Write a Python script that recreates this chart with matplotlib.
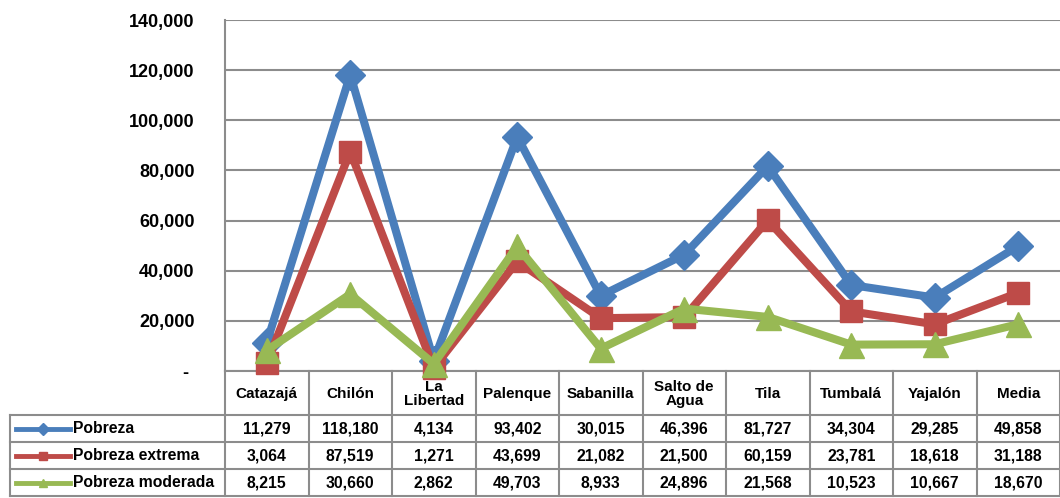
import matplotlib.pyplot as plt
from matplotlib.lines import Line2D

plt.rcParams['font.family'] = ['Liberation Sans', 'DejaVu Sans']
plt.rcParams['font.weight'] = 'bold'

municipios = ["Catazajá", "Chilón", "La\nLibertad", "Palenque", "Sabanilla",
              "Salto de\nAgua", "Tila", "Tumbalá", "Yajalón", "Media"]
pobreza = [11279, 118180, 4134, 93402, 30015, 46396, 81727, 34304, 29285, 49858]
pobreza_extrema = [3064, 87519, 1271, 43699, 21082, 21500, 60159, 23781, 18618, 31188]
pobreza_moderada = [8215, 30660, 2862, 49703, 8933, 24896, 21568, 10523, 10667, 18670]

series = [
    ("Pobreza", pobreza, "#4a7ebb", "D", 15),
    ("Pobreza extrema", pobreza_extrema, "#be4b48", "s", 16),
    ("Pobreza moderada", pobreza_moderada, "#98b954", "^", 18),
]

W, H = 1060, 498
fig = plt.figure(figsize=(W / 100, H / 100), dpi=100)

# overlay in pixel coordinates for the data table
bg = fig.add_axes([0, 0, 1, 1], zorder=0)
bg.set_xlim(0, W)
bg.set_ylim(H, 0)
bg.axis('off')

x0, x1, ytop, ybot = 225, 1060, 20, 371
ax = fig.add_axes([x0 / W, 1 - ybot / H, (x1 - x0) / W, (ybot - ytop) / H], zorder=2)
ax.patch.set_alpha(0)

n = len(municipios)
xs = list(range(n))
for name, vals, col, mk, ms in series:
    ax.plot(xs, vals, color=col, lw=5.8, marker=mk, ms=ms, mfc=col,
            mec=col, mew=1, clip_on=False, solid_joinstyle='round')

ax.set_xlim(-0.5, n - 0.5)
ax.set_ylim(0, 140000)
ax.set_yticks(range(0, 140001, 20000))
ax.set_yticklabels(["- "] + [f"{v:,}" for v in range(20000, 140001, 20000)],
                   fontsize=13, fontweight='bold')
ax.tick_params(axis='y', length=0, pad=22)
ax.tick_params(axis='x', length=0, labelbottom=False)
ax.grid(axis='y', color='#8c8c8c', lw=1.5)
for s in ['top', 'right', 'bottom']:
    ax.spines[s].set_visible(False)
ax.spines['left'].set_color('#8c8c8c')
ax.spines['left'].set_linewidth(1.5)

# data table below the chart
gc = '#8c8c8c'
edges = [x0 + (x1 - x0) * i / n for i in range(n + 1)]
centers = [(edges[i] + edges[i + 1]) / 2 for i in range(n)]
hdr_top, hdr_bot = 371, 415
row_h = 27
tab_left = 10
tab_bot = hdr_bot + row_h * len(series)

bg.plot([x0, x1], [hdr_top, hdr_top], color=gc, lw=1.5)
for k in range(len(series) + 1):
    y = hdr_bot + k * row_h
    bg.plot([tab_left, x1], [y, y], color=gc, lw=1.5)
for e in edges:
    bg.plot([e, e], [hdr_top, tab_bot], color=gc, lw=1.5)
bg.plot([tab_left, tab_left], [hdr_bot, tab_bot], color=gc, lw=1.5)

for c, lab in zip(centers, municipios):
    bg.text(c, (hdr_top + hdr_bot) / 2 + 1, lab, ha='center', va='center',
            fontsize=11, fontweight='bold', linespacing=1.0)

for k, (name, vals, col, mk, ms) in enumerate(series):
    yc = hdr_bot + k * row_h + row_h / 2
    bg.add_line(Line2D([16, 70], [yc, yc], color=col, lw=3.5))
    bg.plot([43], [yc], marker=mk, color=col, ms=6)
    bg.text(73, yc, name, ha='left', va='center', fontsize=11.3, fontweight='bold')
    for c, v in zip(centers, vals):
        bg.text(c, yc, f"{v:,}", ha='center', va='center',
                fontsize=11.3, fontweight='bold')

fig.savefig("out.png", dpi=100)
